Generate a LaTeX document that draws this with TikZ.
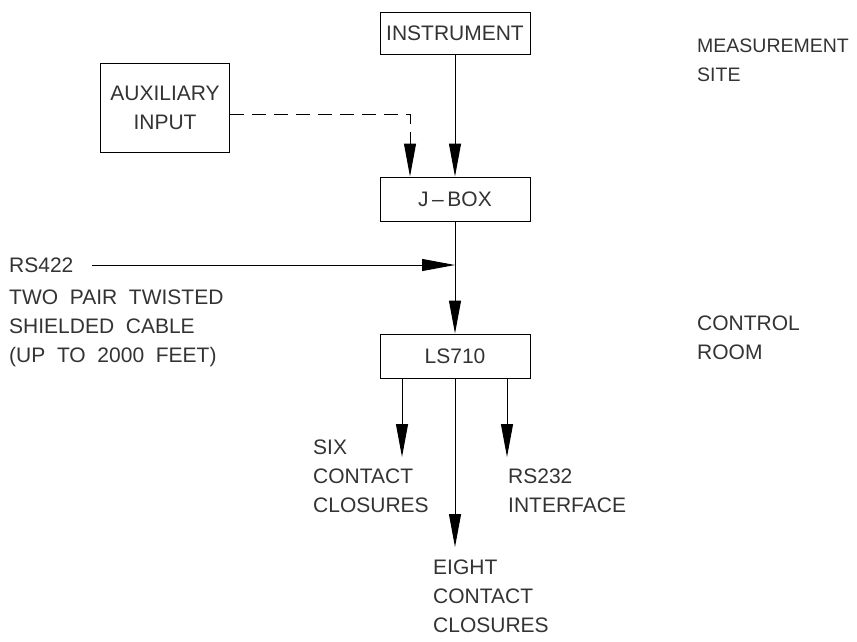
\documentclass[tikz,border=0pt]{standalone}
\usepackage{fontspec}
\setmainfont{Liberation Sans}
\usetikzlibrary{arrows.meta,calc}
\tikzset{
  blk/.style={draw, line width=1pt, minimum width=150pt, minimum height=44pt,
    inner sep=0pt, text=black!80, font=\fontsize{21}{29}\selectfont},
  lbl/.style={inner sep=0pt, anchor=north west, align=left, text=black!80,
    font=\fontsize{21}{29}\selectfont},
  arr/.style={line width=1pt, -{Triangle[length=33pt,width=12pt]}},
  dasharr/.style={arr, dash pattern=on 14pt off 8pt},
}
\begin{document}
\begin{tikzpicture}[x=1pt,y=-1pt]
\useasboundingbox (0,0) rectangle (857,641);
% boxes
\node[blk, minimum height=42pt] (inst) at (455,33) {INSTRUMENT};
\node[blk, minimum width=129pt, minimum height=89pt, align=center] (aux) at (165,107.5) {AUXILIARY\\INPUT};
\node[blk] (jbox) at (455,199) {J\,--\,BOX};
\node[blk] (ls) at (455,356) {LS710};
% side labels
\node[lbl, font=\fontsize{19.5}{29}\selectfont] (site) at (697,39) {MEASUREMENT\\SITE};
\node[lbl] (room) at (697,316) {CONTROL\\ROOM};
\node[lbl, anchor=west, inner sep=0pt] (rs422) at (9,265) {RS422};
\node[lbl] (cable) at (9,290) {TWO\ \ PAIR\ \ TWISTED\\SHIELDED\ \ CABLE\\(UP\ \ TO\ \ 2000\ \ FEET)};
\node[lbl] (six) at (313,440) {SIX\\CONTACT\\CLOSURES};
\node[lbl] (eight) at (433,560) {EIGHT\\CONTACT\\CLOSURES};
\node[lbl] (rs232) at (508,469) {RS232\\INTERFACE};
% signal path
\draw[arr] (inst) -- (jbox);
\coordinate (auxout) at (aux.east |- 0,114);
\coordinate (jin) at ($(jbox.north)+(-45,0)$);
\draw[dasharr] (auxout) -| (jin);
\draw[arr] (jbox) -- (ls);
\draw[arr] ($(rs422.east)+(18,0)$) -- (rs422 -| jbox.south);
% outputs
\coordinate (o1) at ($(ls.south)+(-53,0)$);
\coordinate (o3) at ($(ls.south)+(52,0)$);
\coordinate (e1) at (o1 |- 0,457);
\coordinate (e2) at (ls.south |- 0,547);
\coordinate (e3) at (o3 |- 0,457);
\draw[arr] (o1) -- (e1);
\draw[arr] (ls.south) -- (e2);
\draw[arr] (o3) -- (e3);
\end{tikzpicture}
\end{document}
